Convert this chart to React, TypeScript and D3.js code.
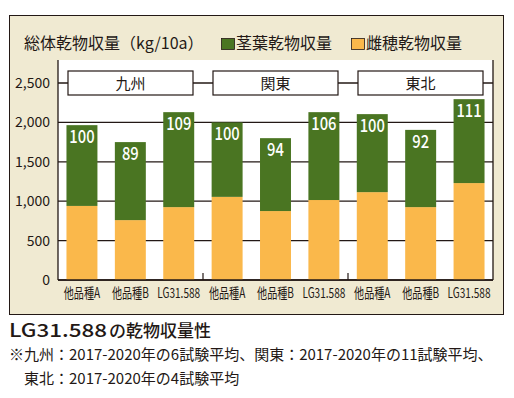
import React from "react";
import * as d3 from "d3";

const categories = ["他品種A", "他品種B", "LG31.588", "他品種A", "他品種B", "LG31.588", "他品種A", "他品種B", "LG31.588"];
const regions = ["九州", "関東", "東北"];
const earValues = [940, 760, 925, 1055, 875, 1015, 1115, 925, 1230];
const stemValues = [1025, 990, 1205, 945, 925, 1115, 990, 980, 1065];
const indexLabels = ["100", "89", "109", "100", "94", "106", "100", "92", "111"];
const yTicks = [0, 500, 1000, 1500, 2000, 2500];
const yTickLabels = ["0", "500", "1,000", "1,500", "2,000", "2,500"];

const GREEN = "#4a7522";
const ORANGE = "#fab84b";
const BEIGE = "#f0ead2";
const INK = "#231815";
const FONT = "'Noto Sans CJK JP', 'Noto Sans', sans-serif";

export default function App() {
  const W = 514, H = 398;
  const left = 58, right = 493, top = 60, bottom = 280;
  const idx = categories.map((_, i) => i);
  const x = d3.scaleBand<number>().domain(idx).range([left, right]).paddingInner(0.36).paddingOuter(0.175);
  const y = d3.scaleLinear().domain([0, 2500]).range([bottom, 83]);
  const groupStart = (g: number) => left + (right - left) * g / 3;
  const groupEnd = (g: number) => left + (right - left) * (g + 1) / 3;

  return (
    <svg width={W} height={H} style={{ position: "absolute", left: 0, top: 0 }} fontFamily={FONT}>
      <rect x={9.5} y={15.5} width={494} height={299} fill={BEIGE} stroke={INK} strokeWidth={1} />
      <rect x={left} y={top} width={right - left} height={bottom - top} fill="#ffffff" />
      {/* gridlines */}
      {yTicks.map((t) => (
        <line key={t} x1={left} x2={right} y1={y(t)} y2={y(t)} stroke={INK} strokeWidth={1.3} />
      ))}
      {/* bars */}
      {idx.map((i) => {
        const bx = x(i)!;
        const bw = x.bandwidth();
        const total = earValues[i] + stemValues[i];
        return (
          <g key={i}>
            <rect x={bx} y={y(earValues[i])} width={bw} height={y(0) - y(earValues[i])} fill={ORANGE} />
            <rect x={bx} y={y(total)} width={bw} height={y(earValues[i]) - y(total)} fill={GREEN} />
            <text
              transform={`translate(${bx + bw / 2},${y(total) + 18}) scale(0.82,1)`}
              textAnchor="middle"
              fontSize={18}
              fill="#ffffff"
              fontWeight={500}
            >
              {indexLabels[i]}
            </text>
            <text
              transform={`translate(${bx + bw / 2},${bottom + 18}) scale(0.72,1)`}
              textAnchor="middle"
              fontSize={14}
              fill={INK}
            >
              {categories[i]}
            </text>
          </g>
        );
      })}
      {/* region boxes */}
      {regions.map((r, g) => {
        const x0 = groupStart(g) + 10;
        const x1 = groupEnd(g) - 10;
        return (
          <g key={r}>
            <rect x={x0} y={y(2500) - 12} width={x1 - x0} height={24} fill="#ffffff" stroke={INK} strokeWidth={1.2} />
            <text x={(x0 + x1) / 2} y={y(2500) + 5.5} textAnchor="middle" fontSize={15} fill={INK}>
              {r}
            </text>
          </g>
        );
      })}
      {/* axes */}
      <line x1={left} x2={left} y1={top} y2={bottom} stroke={INK} strokeWidth={1.3} />
      <line x1={right} x2={right} y1={top} y2={bottom} stroke={INK} strokeWidth={1.3} />
      <line x1={left} x2={right} y1={bottom} y2={bottom} stroke={INK} strokeWidth={1.5} />
      {[1, 2].map((g) => (
        <line key={g} x1={groupStart(g)} x2={groupStart(g)} y1={bottom - 7} y2={bottom} stroke={INK} strokeWidth={1.2} />
      ))}
      {yTicks.map((t, k) => (
        <text key={t} x={50} y={y(t) + 5} textAnchor="end" fontSize={14} fill={INK}>
          {yTickLabels[k]}
        </text>
      ))}
      {/* title & legend */}
      <text x={24} y={49} fontSize={16} fill={INK}>総体乾物収量（kg/10a）</text>
      <rect x={221.5} y={38.5} width={13} height={11} fill={GREEN} stroke={INK} strokeWidth={0.8} />
      <text x={236} y={49} fontSize={16} fill={INK}>茎葉乾物収量</text>
      <rect x={351.5} y={38.5} width={13} height={11} fill={ORANGE} stroke={INK} strokeWidth={0.8} />
      <text x={366} y={49} fontSize={16} fill={INK}>雌穂乾物収量</text>
      {/* caption */}
      <text x={9} y={337} fontSize={18} fill={INK} fontWeight={500} textLength={98} lengthAdjust="spacingAndGlyphs">
        LG31.588
      </text>
      <text x={109} y={337} fontSize={17} fill={INK} fontWeight={500}>
        の乾物収量性
      </text>
      <text x={9} y={359.5} fontSize={15} fill={INK}>
        ※九州：2017-2020年の6試験平均、関東：2017-2020年の11試験平均、
      </text>
      <text x={24} y={384} fontSize={15} fill={INK}>
        東北：2017-2020年の4試験平均
      </text>
    </svg>
  );
}
